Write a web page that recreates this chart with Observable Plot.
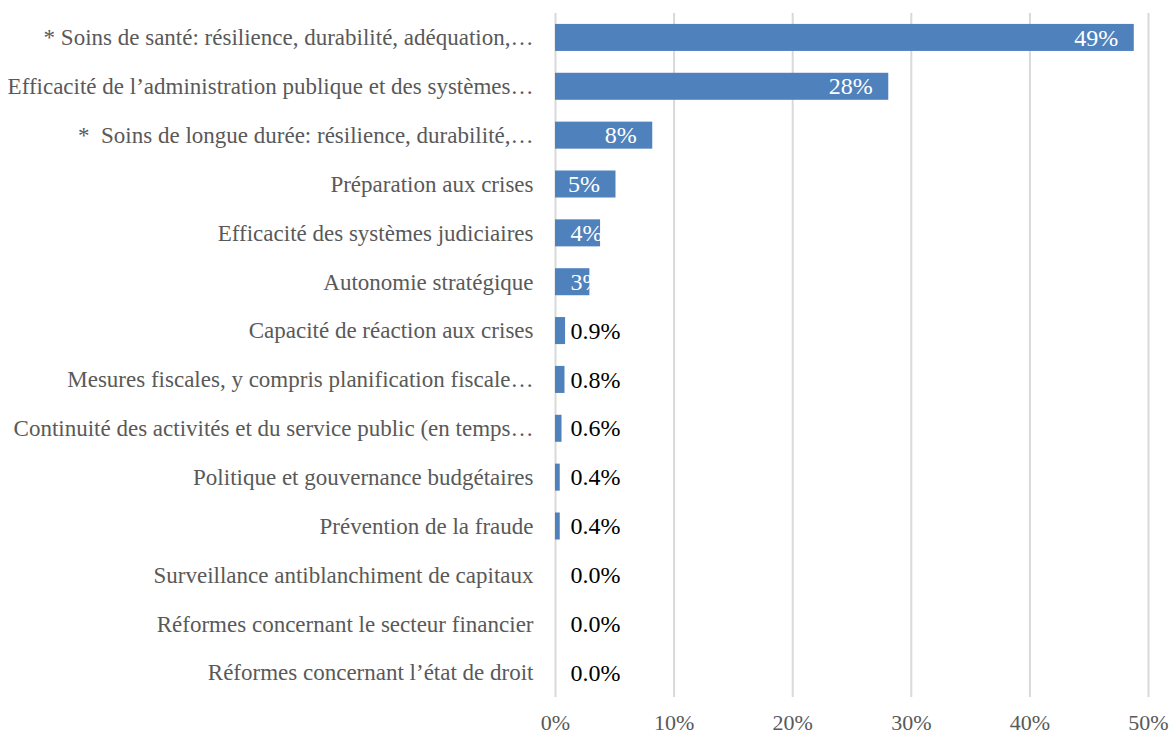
<!DOCTYPE html>
<html>
<head>
<meta charset="utf-8">
<script src="https://cdn.jsdelivr.net/npm/d3@7"></script>
<script src="https://cdn.jsdelivr.net/npm/@observablehq/plot@0.6"></script>
<style>
  html, body { margin: 0; padding: 0; background: #fff; }
  #chart svg { display: block; }
</style>
</head>
<body>
<div id="chart"></div>
<script>
const categories = [
  "* Soins de santé: résilience, durabilité, adéquation,…",
  "Efficacité de l’administration publique et des systèmes…",
  "*\u00a0 Soins de longue durée: résilience, durabilité,…",
  "Préparation aux crises",
  "Efficacité des systèmes judiciaires",
  "Autonomie stratégique",
  "Capacité de réaction aux crises",
  "Mesures fiscales, y compris planification fiscale…",
  "Continuité des activités et du service public (en temps…",
  "Politique et gouvernance budgétaires",
  "Prévention de la fraude",
  "Surveillance antiblanchiment de capitaux",
  "Réformes concernant le secteur financier",
  "Réformes concernant l’état de droit"
];
const values = [48.8, 28.1, 8.2, 5.1, 3.8, 2.9, 0.85, 0.8, 0.55, 0.4, 0.4, 0, 0, 0];
const valueLabels = ["49%", "28%", "8%", "5%", "4%", "3%", "0.9%", "0.8%", "0.6%", "0.4%", "0.4%", "0.0%", "0.0%", "0.0%"];
const xTicks = [0, 10, 20, 30, 40, 50];

const data = categories.map((name, i) => ({name, value: values[i], label: valueLabels[i]}));
const insideEnd = data.filter(d => d.value >= 5);
const insideStart = data.filter(d => d.value >= 2 && d.value < 5);
const outside = data.filter(d => d.value < 2);

const font = "'Liberation Serif', 'Times New Roman', serif";

const plot = Plot.plot({
  width: 1174,
  height: 735,
  marginTop: 13,
  marginBottom: 38,
  marginLeft: 555,
  marginRight: 26,
  style: {fontFamily: font, background: "#fff"},
  x: {domain: [0, 50], label: null},
  y: {domain: categories, paddingInner: 0.447, paddingOuter: 0.2235, round: false, label: null},
  marks: [
    Plot.ruleX(xTicks, {stroke: "#d9d9d9", strokeWidth: 2}),
    Plot.barX(data, {x: "value", y: "name", fill: "#4F81BD"}),
    Plot.axisX({ticks: xTicks, tickSize: 0, tickPadding: 17, tickFormat: d => d + "%", fontSize: 22, fill: "#595959", label: null}),
    Plot.axisY({tickSize: 0, tickPadding: 22, fontSize: 23, fill: "#595959", label: null}),
    Plot.text(insideEnd, {x: "value", y: "name", text: "label", dx: -16, textAnchor: "end", fill: "#fff", fontSize: 24}),
    Plot.text(insideStart, {x: 0, y: "name", text: "label", dx: 15, textAnchor: "start", fill: "#fff", fontSize: 24}),
    Plot.text(outside, {x: 0, y: "name", text: "label", dx: 15, textAnchor: "start", fill: "#000", fontSize: 24})
  ]
});
document.getElementById("chart").appendChild(plot);
</script>
</body>
</html>
